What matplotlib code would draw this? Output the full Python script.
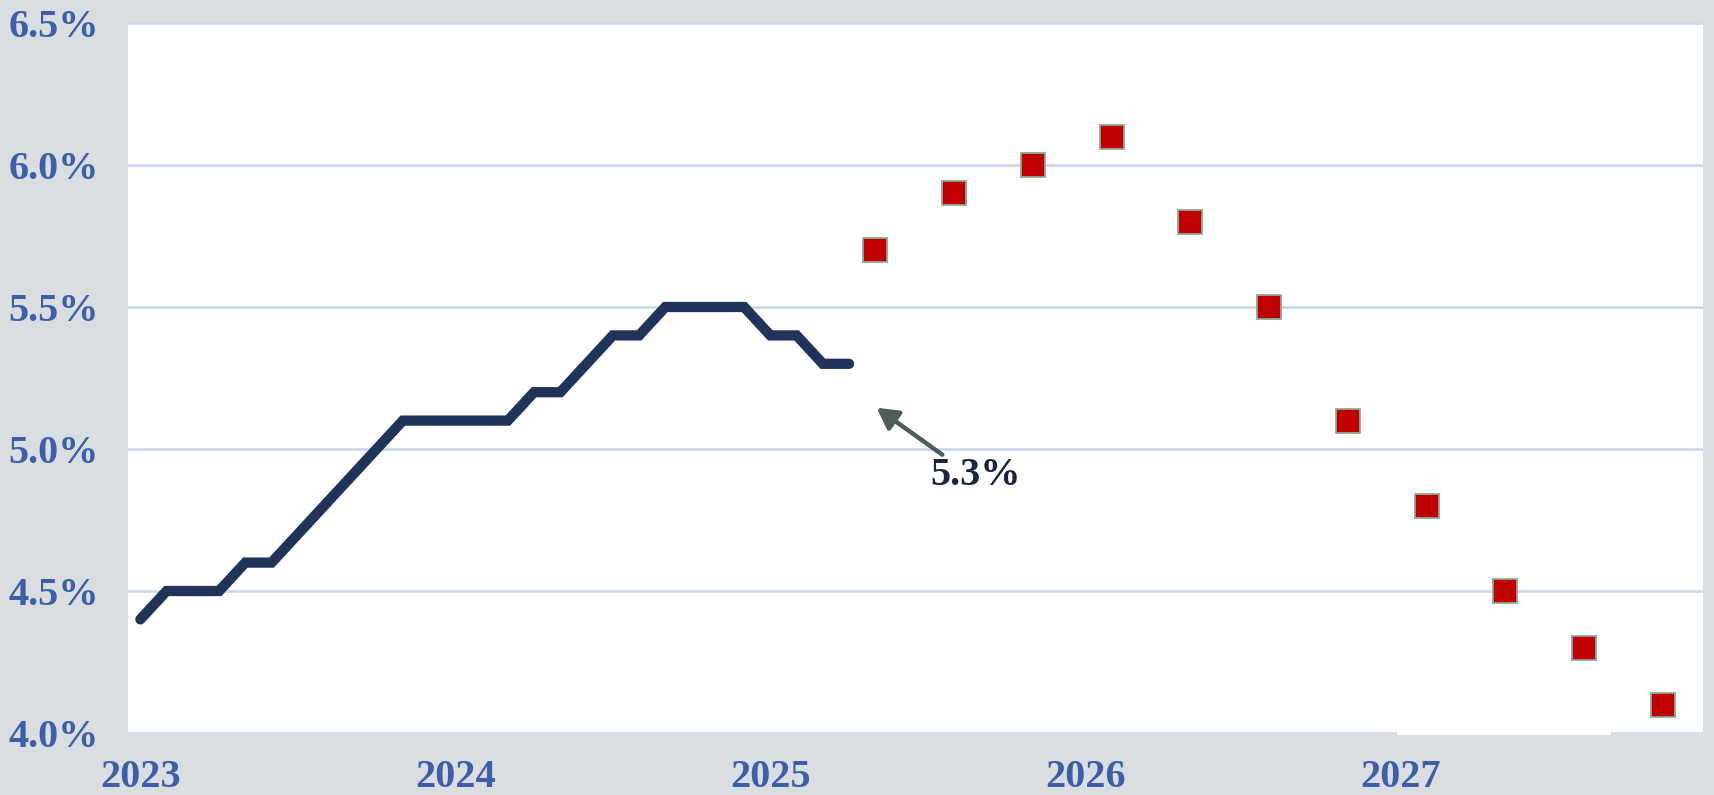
import matplotlib.pyplot as plt
from matplotlib.patches import Rectangle
from matplotlib.ticker import FuncFormatter

# monthly history, Jan 2023 .. Apr 2025 (month index 0..27)
hist_month = list(range(28))
hist_rate = [4.4, 4.5, 4.5, 4.5, 4.6, 4.6, 4.7, 4.8, 4.9, 5.0,
             5.1, 5.1, 5.1, 5.1, 5.1, 5.2, 5.2, 5.3, 5.4, 5.4,
             5.5, 5.5, 5.5, 5.5, 5.4, 5.4, 5.3, 5.3]

# quarterly projection
proj_month = [28, 31, 34, 37, 40, 43, 46, 49, 52, 55, 58]
proj_rate = [5.7, 5.9, 6.0, 6.1, 5.8, 5.5, 5.1, 4.8, 4.5, 4.3, 4.1]

year_ticks = [0, 12, 24, 36, 48]
year_labels = ["2023", "2024", "2025", "2026", "2027"]
y_ticks = [4.0, 4.5, 5.0, 5.5, 6.0, 6.5]

last_label = "5.3%"

bg = "#dadee0"
blue = "#3d5fa9"
navy = "#203358"

plt.rcParams["font.family"] = ["Liberation Serif", "DejaVu Serif"]

fig = plt.figure(figsize=(17.14, 7.95), dpi=100, facecolor=bg)
ax = fig.add_axes([128 / 1714, 62 / 795, 1575 / 1714, 710 / 795])
ax.set_facecolor("white")

ax.plot(hist_month, hist_rate, color=navy, lw=7.4,
        solid_capstyle="round", solid_joinstyle="miter", zorder=3)
ax.plot(proj_month, proj_rate, ls="none", marker="s", ms=17,
        mfc="#c00000", mec="#8fa995", mew=1.3, zorder=4)

# label and arrow pointing back at the last observation
ax.text(31.8, 4.905, last_label, ha="center", va="center", fontsize=29,
        fontweight="bold", color="#1b2442")
ax.annotate("", xy=(28.05, 5.145), xytext=(30.55, 4.98),
            arrowprops=dict(arrowstyle="-|>,head_length=0.45,head_width=0.25",
                            mutation_scale=28, color="#505c58", lw=3.2,
                            shrinkA=0, shrinkB=0))

ax.set_xlim(-0.47, 59.53)
ax.set_ylim(4.0, 6.5)
ax.set_xticks(year_ticks, year_labels)
ax.set_yticks(y_ticks)
ax.yaxis.set_major_formatter(FuncFormatter(lambda v, p: f"{v:.1f}%"))
ax.grid(axis="y", color="#cfd8eb", lw=2, zorder=1)
ax.grid(axis="x", visible=False)
for s in ax.spines.values():
    s.set_visible(False)
ax.tick_params(length=0, labelsize=29, labelcolor=blue)
ax.tick_params(axis="y", pad=21)
ax.tick_params(axis="x", pad=19)
for lbl in ax.get_yticklabels() + ax.get_xticklabels():
    lbl.set_fontweight("bold")

# white box sitting over the bottom gridline near 2027
fig.patches.append(Rectangle((1397 / 1714, 60 / 795), 214 / 1714, 12 / 795,
                             transform=fig.transFigure, facecolor="white",
                             edgecolor="none", zorder=5))

fig.savefig("out.png", dpi=100, facecolor=bg)
